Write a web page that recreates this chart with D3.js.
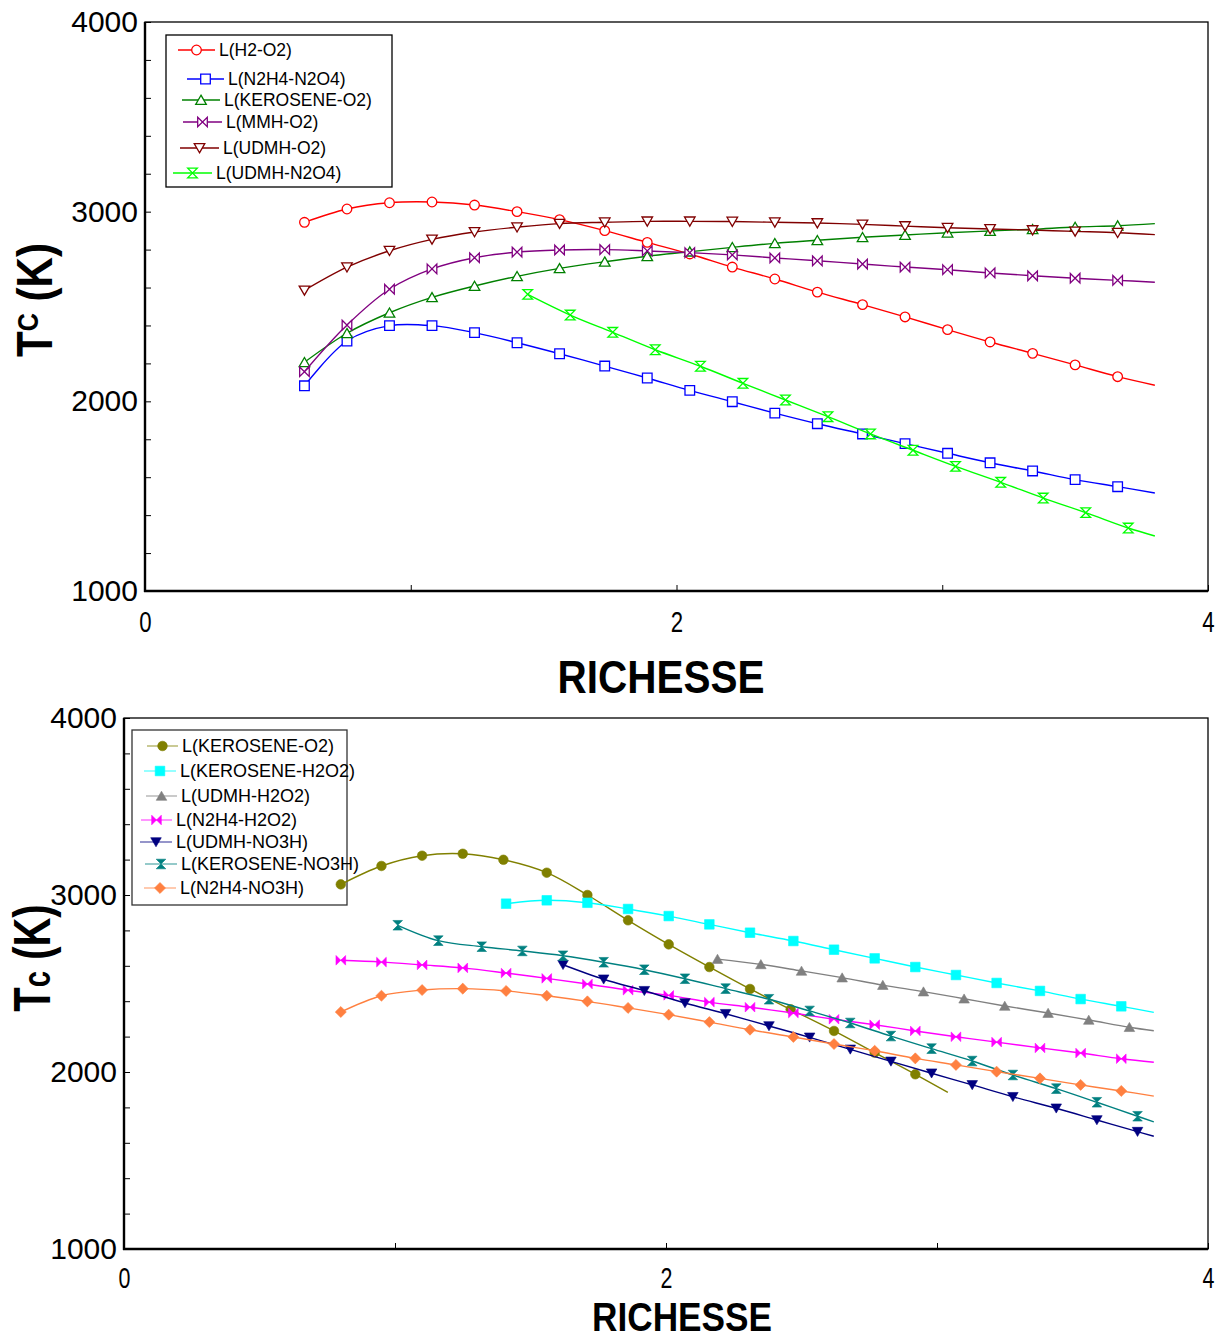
<!DOCTYPE html>
<html>
<head>
<meta charset="utf-8">
<script src="https://cdn.jsdelivr.net/npm/d3@7"></script>
<style>
  body { margin: 0; background: #fff; }
  svg { display: block; }
  text { font-family: "Liberation Sans", Arial, sans-serif; fill: #000; }
</style>
</head>
<body>
<svg id="chart" width="1224" height="1340"></svg>
<script>
// ---- top chart data (RICHESSE vs Tc in K) ----
const X_TOP       = [0.60, 0.76, 0.92, 1.08, 1.24, 1.40, 1.56, 1.73, 1.89, 2.05, 2.21, 2.37, 2.53, 2.70, 2.86, 3.02, 3.18, 3.34, 3.50, 3.66, 3.80];
const H2_O2       = [2944, 3014, 3047, 3051, 3035, 3000, 2958, 2900, 2838, 2777, 2708, 2645, 2576, 2510, 2445, 2378, 2313, 2253, 2192, 2130, 2085];
const N2H4_N2O4   = [2082, 2318, 2399, 2399, 2362, 2309, 2251, 2186, 2123, 2058, 1998, 1938, 1882, 1828, 1777, 1726, 1676, 1633, 1587, 1550, 1517];
const KEROSENE_O2 = [2206, 2359, 2467, 2548, 2608, 2659, 2701, 2736, 2765, 2789, 2812, 2833, 2849, 2865, 2877, 2889, 2898, 2907, 2919, 2926, 2937];
const MMH_O2      = [2156, 2402, 2591, 2698, 2757, 2787, 2798, 2800, 2793, 2784, 2772, 2756, 2741, 2724, 2708, 2694, 2677, 2662, 2649, 2638, 2628];
const UDMH_O2     = [2585, 2707, 2794, 2854, 2893, 2918, 2937, 2944, 2949, 2949, 2948, 2944, 2940, 2933, 2924, 2915, 2909, 2903, 2896, 2889, 2879];
const X_UDMH_N2O4 = [1.44, 1.60, 1.76, 1.92, 2.09, 2.25, 2.41, 2.57, 2.73, 2.89, 3.05, 3.22, 3.38, 3.54, 3.70, 3.80];
const UDMH_N2O4   = [2564, 2455, 2364, 2272, 2185, 2095, 2007, 1919, 1828, 1742, 1657, 1573, 1490, 1413, 1332, 1290];

// ---- bottom chart data ----
const X_BOT        = [0.80, 0.95, 1.10, 1.25, 1.41, 1.56, 1.71, 1.86, 2.01, 2.16, 2.31, 2.47, 2.62, 2.77, 2.92, 3.07, 3.22, 3.38, 3.53, 3.68, 3.80];
const X_KER_O2     = [0.80, 0.95, 1.10, 1.25, 1.40, 1.56, 1.71, 1.86, 2.01, 2.16, 2.31, 2.46, 2.62, 2.77, 2.92, 3.04];
const KER_O2       = [3060, 3164, 3222, 3233, 3199, 3126, 3000, 2857, 2721, 2593, 2469, 2354, 2232, 2109, 1987, 1885];
const X_KER_H2O2   = [1.41, 1.56, 1.71, 1.86, 2.01, 2.16, 2.31, 2.47, 2.62, 2.77, 2.92, 3.07, 3.22, 3.38, 3.53, 3.68, 3.80];
const KER_H2O2     = [2951, 2970, 2956, 2921, 2881, 2834, 2787, 2740, 2691, 2642, 2593, 2548, 2503, 2458, 2412, 2371, 2337];
const X_UDMH_H2O2  = [2.19, 2.35, 2.50, 2.65, 2.80, 2.95, 3.10, 3.25, 3.41, 3.56, 3.71, 3.80];
const UDMH_H2O2    = [2638, 2608, 2571, 2533, 2491, 2454, 2414, 2373, 2333, 2294, 2253, 2233];
const N2H4_H2O2    = [2631, 2621, 2605, 2588, 2559, 2529, 2497, 2462, 2433, 2395, 2366, 2333, 2298, 2267, 2232, 2199, 2169, 2136, 2107, 2075, 2055];
const X_UDMH_NO3H  = [1.62, 1.77, 1.92, 2.07, 2.22, 2.38, 2.53, 2.68, 2.83, 2.98, 3.13, 3.28, 3.44, 3.59, 3.74, 3.80];
const UDMH_NO3H    = [2606, 2524, 2459, 2390, 2329, 2260, 2196, 2128, 2060, 1993, 1927, 1860, 1795, 1729, 1663, 1637];
const X_KER_NO3H   = [1.01, 1.16, 1.32, 1.47, 1.62, 1.77, 1.92, 2.07, 2.22, 2.38, 2.53, 2.68, 2.83, 2.98, 3.13, 3.28, 3.44, 3.59, 3.74, 3.80];
const KER_NO3H     = [2829, 2742, 2708, 2684, 2657, 2620, 2578, 2527, 2471, 2411, 2345, 2277, 2203, 2132, 2062, 1983, 1906, 1829, 1750, 1718];
const N2H4_NO3H    = [2339, 2431, 2463, 2471, 2458, 2431, 2399, 2362, 2324, 2282, 2239, 2198, 2158, 2120, 2077, 2040, 2002, 1964, 1927, 1893, 1864];

const Y_TICKS = [1000, 1200, 1400, 1600, 1800, 2000, 2200, 2400, 2600, 2800, 3000, 3200, 3400, 3600, 3800, 4000];
const X_TICKS = [0, 1, 2, 3, 4];

const svg = d3.select("#chart");

// marker shapes, s = half size
function markerPath(type, s) {
  switch (type) {
    case "circle":   return d3.symbol(d3.symbolCircle, Math.PI * s * s)();
    case "square":   return `M${-s},${-s}H${s}V${s}H${-s}Z`;
    case "up":       return `M0,${-s}L${s * 1.1},${s * 0.9}H${-s * 1.1}Z`;
    case "down":     return `M0,${s}L${s * 1.1},${-s * 0.9}H${-s * 1.1}Z`;
    case "bowtie":   return `M${-s},${-s}L${s},${s}V${-s}L${-s},${s}Z`;
    case "hourglass":return `M${-s},${-s}H${s}L${-s},${s}H${s}Z`;
    case "diamond":  return `M0,${-s * 1.15}L${s * 1.15},0L0,${s * 1.15}L${-s * 1.15},0Z`;
  }
}

function drawPanel(p) {
  const x = d3.scaleLinear().domain([0, 4]).range([p.left, p.right]);
  const y = d3.scaleLinear().domain([1000, 4000]).range([p.bottom, p.top]);
  const g = svg.append("g");

  // frame
  g.append("rect")
    .attr("x", p.left).attr("y", p.top)
    .attr("width", p.right - p.left).attr("height", p.bottom - p.top)
    .attr("fill", "none").attr("stroke", "#000").attr("stroke-width", 1.3);

  // y axis
  const ya = g.append("g").attr("transform", `translate(${p.left},0)`)
    .call(d3.axisLeft(y).tickValues(Y_TICKS).tickSize(-6).tickPadding(7)
      .tickFormat(d => d % 1000 === 0 ? d : ""));
  ya.select(".domain").remove();
  ya.selectAll("line").attr("stroke", "#000");
  ya.selectAll("text").attr("font-size", 30).attr("font-family", null).attr("fill", "#000");

  // x axis
  const xa = g.append("g").attr("transform", `translate(0,${p.bottom})`)
    .call(d3.axisBottom(x).tickValues(X_TICKS).tickSize(-6).tickPadding(p.xPad)
      .tickFormat(d => d % 2 === 0 ? d : ""));
  xa.select(".domain").remove();
  xa.selectAll("line").attr("stroke", "#000");
  xa.selectAll("text").attr("font-size", p.xFont).attr("font-family", null).attr("fill", "#000")
    .attr("transform", "scale(0.74,1)");

  // heavier left and bottom axis lines
  g.append("line").attr("x1", p.left).attr("x2", p.left).attr("y1", p.top).attr("y2", p.bottom + 1)
    .attr("stroke", "#000").attr("stroke-width", 2.4);
  g.append("line").attr("x1", p.left - 1).attr("x2", p.right).attr("y1", p.bottom).attr("y2", p.bottom)
    .attr("stroke", "#000").attr("stroke-width", 2.4);

  // legend (drawn under the curves)
  const lg = g.append("g");
  lg.append("rect").attr("x", p.legBox[0]).attr("y", p.legBox[1])
    .attr("width", p.legBox[2] - p.legBox[0]).attr("height", p.legBox[3] - p.legBox[1])
    .attr("fill", "#fff").attr("stroke", p.legStroke).attr("stroke-width", 1.3);
  p.series.forEach((s, i) => {
    const [x0, x1, yy] = p.legRows[i];
    lg.append("line").attr("x1", x0).attr("x2", x1).attr("y1", yy).attr("y2", yy)
      .attr("stroke", s.color).attr("stroke-width", 1.4).attr("stroke-opacity", p.legLineOpacity);
    lg.append("path").attr("transform", `translate(${(x0 + x1) / 2},${yy})`)
      .attr("d", markerPath(s.marker, p.msize))
      .attr("fill", p.filled ? s.color : "#fff")
      .attr("stroke", s.color).attr("stroke-width", p.filled ? 0.6 : 1.3);
    lg.append("text").attr("x", x1 + 4).attr("y", yy).attr("dy", "0.36em")
      .attr("font-size", p.legFont).text(s.name);
  });

  // series
  const line = d3.line().x(d => x(d[0])).y(d => y(d[1])).curve(d3.curveCatmullRom);
  p.series.forEach(s => {
    const pts = s.x.map((v, i) => [v, s.y[i]]);
    g.append("path").attr("d", line(pts))
      .attr("fill", "none").attr("stroke", s.color).attr("stroke-width", 1.4);
    g.selectAll(null).data(pts.slice(0, -1)).enter().append("path")
      .attr("transform", d => `translate(${x(d[0])},${y(d[1])})`)
      .attr("d", markerPath(s.marker, p.msize))
      .attr("fill", p.filled ? s.color : "#fff")
      .attr("stroke", s.color).attr("stroke-width", p.filled ? 0.6 : 1.3);
  });

  // axis titles
  g.append("text")
    .attr("transform", `translate(${p.xTitle[0]},${p.xTitle[1]}) scale(0.88,1)`)
    .attr("text-anchor", "middle").attr("font-weight", "bold").attr("font-size", p.xTitle[2])
    .text("RICHESSE");
  const yt = g.append("text")
    .attr("transform", `translate(${p.yTitle[0]},${p.yTitle[1]}) rotate(-90) scale(${p.yTitle[2]},1)`)
    .attr("text-anchor", "middle").attr("font-weight", "bold");
  yt.append("tspan").attr("font-size", p.yTitle[3]).text("T");
  yt.append("tspan").attr("font-size", p.yTitle[4]).attr("dy", p.yTitle[6]).text(p.yTitle[5]);
  yt.append("tspan").attr("font-size", p.yTitle[3]).attr("dy", -p.yTitle[6]).text(" (K)");
}

drawPanel({
  left: 145, right: 1208, top: 22, bottom: 591, xPad: 20, xFont: 30,
  filled: false, msize: 4.8, legLineOpacity: 1,
  series: [
    { name: "L(H2-O2)",        x: X_TOP,       y: H2_O2,       color: "#ff0000", marker: "circle" },
    { name: "L(N2H4-N2O4)",    x: X_TOP,       y: N2H4_N2O4,   color: "#0000ff", marker: "square" },
    { name: "L(KEROSENE-O2)",  x: X_TOP,       y: KEROSENE_O2, color: "#008000", marker: "up" },
    { name: "L(MMH-O2)",       x: X_TOP,       y: MMH_O2,      color: "#800080", marker: "bowtie" },
    { name: "L(UDMH-O2)",      x: X_TOP,       y: UDMH_O2,     color: "#800000", marker: "down" },
    { name: "L(UDMH-N2O4)",    x: X_UDMH_N2O4, y: UDMH_N2O4,   color: "#00ff00", marker: "hourglass" }
  ],
  legBox: [166, 35, 392, 187], legStroke: "#000", legFont: 17.5,
  legRows: [[178, 215, 50], [187, 224, 79], [182, 220, 100], [183, 222, 122], [180, 219, 148], [173, 212, 173]],
  xTitle: [661, 693, 46],
  yTitle: [52, 300, 0.84, 50, 30, "C", -14]
});

drawPanel({
  left: 124, right: 1208, top: 718, bottom: 1249, xPad: 18, xFont: 29,
  filled: true, msize: 4.8, legLineOpacity: 0.6,
  series: [
    { name: "L(KEROSENE-O2)",   x: X_KER_O2,    y: KER_O2,     color: "#808000", marker: "circle" },
    { name: "L(KEROSENE-H2O2)", x: X_KER_H2O2,  y: KER_H2O2,   color: "#00ffff", marker: "square" },
    { name: "L(UDMH-H2O2)",     x: X_UDMH_H2O2, y: UDMH_H2O2,  color: "#808080", marker: "up" },
    { name: "L(N2H4-H2O2)",     x: X_BOT,       y: N2H4_H2O2,  color: "#ff00ff", marker: "bowtie" },
    { name: "L(UDMH-NO3H)",     x: X_UDMH_NO3H, y: UDMH_NO3H,  color: "#000080", marker: "down" },
    { name: "L(KEROSENE-NO3H)", x: X_KER_NO3H,  y: KER_NO3H,   color: "#008080", marker: "hourglass" },
    { name: "L(N2H4-NO3H)",     x: X_BOT,       y: N2H4_NO3H,  color: "#ff8040", marker: "diamond" }
  ],
  legBox: [132, 730, 347, 905], legStroke: "#333", legFont: 18,
  legRows: [[147, 178, 746], [144, 176, 771], [146, 177, 796], [141, 172, 820], [140, 172, 842], [145, 177, 864], [144, 176, 888]],
  xTitle: [682, 1331, 40],
  yTitle: [50, 958, 0.77, 52, 38, "c", 0]
});
</script>
</body>
</html>
